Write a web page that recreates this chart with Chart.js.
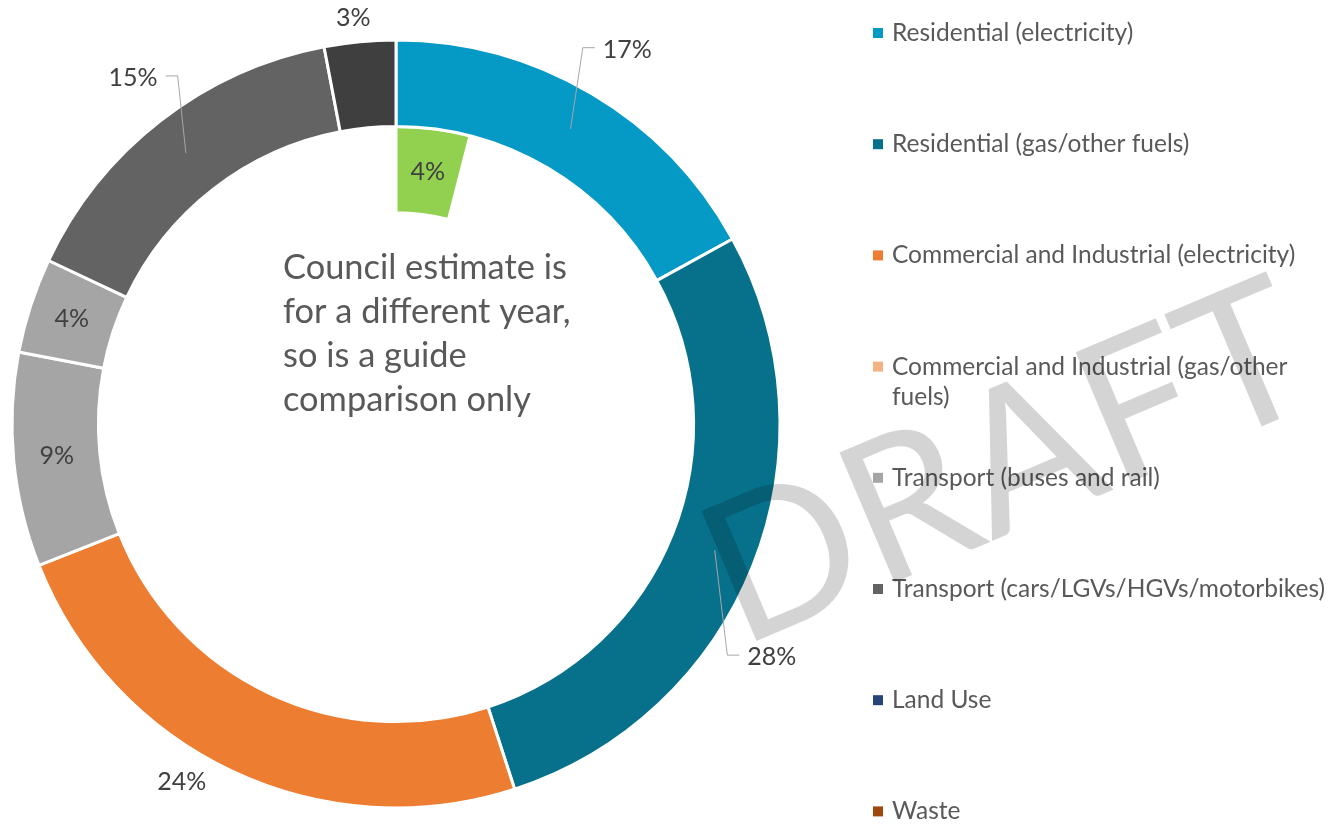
<!DOCTYPE html>
<html>
<head>
<meta charset="utf-8">
<script src="https://cdn.jsdelivr.net/npm/chart.js@4.4.0/dist/chart.umd.min.js"></script>
<style>
  html, body { margin: 0; background: #fff; }
  #wrap { width: 1330px; height: 824px; }
</style>
</head>
<body>
<div id="wrap"><canvas id="emissionsDonut" width="1330" height="824"></canvas></div>
<script>
/* Emissions split — outer ring by sector, inner ring council estimate */
const categories = [
  "Residential (electricity)",
  "Residential (gas/other fuels)",
  "Commercial and Industrial (electricity)",
  "Commercial and Industrial (gas/other fuels)",
  "Transport (buses and rail)",
  "Transport (other)",
  "Transport (cars/LGVs/HGVs/motorbikes)",
  "Other",
  "Land Use",
  "Waste"
];
const shares = [17, 28, 24, 0, 9, 4, 15, 3, 0, 0];
const colours = ["#0599c6", "#07718b", "#ed7d31", "#f4b183", "#a5a5a5", "#a5a5a5", "#636363", "#3f3f3f", "#264478", "#9e480e"];
const legendShown = [0, 1, 2, 3, 4, 6, 8, 9];

const councilShares = [4, 96];
const councilColours = ["#92d050", "rgba(0,0,0,0)"];

const centreNote = ["Council estimate is", "for a different year,", "so is a guide", "comparison only"];

// where each outer label sits: r = fraction of outer radius (null = middle of ring),
// da = angle nudge in degrees, leader = elbow direction (1 right, -1 left)
const labelSpots = [
  { r: 1.094, da: -4.2, leader: 1 },
  { r: 1.052, da: 13.3, leader: 1 },
  { r: 1.086, da: 5.7 },
  null,
  { r: null, da: 0 },
  { r: null, da: 0 },
  { r: 1.07, da: 5.7, leader: -1 },
  { r: 1.0625, da: -0.6 },
  null,
  null
];

const FONT = "Lato, 'Open Sans', sans-serif";

const sliceLabels = {
  id: "sliceLabels",
  afterDatasetsDraw(chart) {
    const ctx = chart.ctx;
    ctx.save();
    ctx.font = "25px " + FONT;
    ctx.fillStyle = "#404040";
    ctx.strokeStyle = "#a6a6a6";
    ctx.lineWidth = 1;
    ctx.textBaseline = "middle";

    chart.getDatasetMeta(0).data.forEach((arc, i) => {
      const spot = labelSpots[i];
      if (!spot || !shares[i]) return;
      const p = arc.getProps(["x", "y", "startAngle", "endAngle", "innerRadius", "outerRadius"], true);
      const mid = (p.startAngle + p.endAngle) / 2;
      const ringMid = (p.innerRadius + p.outerRadius) / 2;
      const a = mid + spot.da * Math.PI / 180;
      const r = spot.r ? p.outerRadius * spot.r : ringMid;
      const lx = p.x + r * Math.cos(a), ly = p.y + r * Math.sin(a);
      const text = shares[i] + "%";
      if (spot.leader) {
        ctx.beginPath();
        ctx.moveTo(p.x + (ringMid + 2) * Math.cos(mid), p.y + (ringMid + 2) * Math.sin(mid));
        ctx.lineTo(lx, ly);
        ctx.lineTo(lx + spot.leader * 12, ly);
        ctx.stroke();
        ctx.textAlign = spot.leader > 0 ? "left" : "right";
        ctx.fillText(text, lx + spot.leader * 20, ly + 2);
      } else {
        ctx.textAlign = "center";
        ctx.fillText(text, lx, ly);
      }
    });

    // council estimate slice
    const inner = chart.getDatasetMeta(1).data[0];
    const q = inner.getProps(["x", "y", "startAngle", "endAngle", "innerRadius", "outerRadius"], true);
    const m = (q.startAngle + q.endAngle) / 2, rr = (q.innerRadius + q.outerRadius) / 2;
    ctx.textAlign = "center";
    ctx.fillText(councilShares[0] + "%", q.x + rr * Math.cos(m), q.y + rr * Math.sin(m));
    ctx.restore();
  }
};

const extras = {
  id: "extras",
  afterDraw(chart) {
    const ctx = chart.ctx;
    const arc0 = chart.getDatasetMeta(0).data[0];
    const cx = arc0.x, cy = arc0.y;
    ctx.save();

    // note in the hole
    ctx.font = "34.4px " + FONT;
    ctx.fillStyle = "#595959";
    ctx.textAlign = "left";
    ctx.textBaseline = "alphabetic";
    centreNote.forEach((line, i) => ctx.fillText(line, cx - 113, cy - 145 + i * 44));

    // legend
    ctx.font = "24.5px " + FONT;
    ctx.textBaseline = "middle";
    const lx = 873, maxW = 445;
    legendShown.forEach((idx, k) => {
      const y = 33 + k * 111.2;
      ctx.fillStyle = colours[idx];
      ctx.fillRect(lx, y - 5, 10, 10);
      ctx.fillStyle = "#595959";
      const words = categories[idx].split(" ");
      const lines = [];
      let cur = "";
      words.forEach(w => {
        const t = cur ? cur + " " + w : w;
        if (ctx.measureText(t).width > maxW && cur) { lines.push(cur); cur = w; } else cur = t;
      });
      lines.push(cur);
      lines.forEach((ln, j) => ctx.fillText(ln, lx + 19, y + j * 30));
    });

    // watermark
    ctx.translate(740, 648);
    ctx.rotate(-23 * Math.PI / 180);
    ctx.font = "197px " + FONT;
    ctx.fillStyle = "rgba(0,0,0,0.17)";
    ctx.textBaseline = "alphabetic";
    ctx.fillText("DRAFT", 0, 0);
    ctx.restore();
  }
};

new Chart(document.getElementById("emissionsDonut"), {
  type: "doughnut",
  data: {
    labels: categories,
    datasets: [
      { data: shares, backgroundColor: colours, borderColor: "#ffffff", borderWidth: 3 },
      { data: councilShares, backgroundColor: councilColours, borderColor: ["#ffffff", "rgba(0,0,0,0)"], borderWidth: [3, 0] }
    ]
  },
  options: {
    responsive: false,
    animation: false,
    radius: 384,
    cutout: "55%",
    layout: { padding: { left: 12, top: 40, right: 550, bottom: 16 } },
    plugins: { legend: { display: false }, tooltip: { enabled: false } }
  },
  plugins: [sliceLabels, extras]
});
</script>
</body>
</html>
